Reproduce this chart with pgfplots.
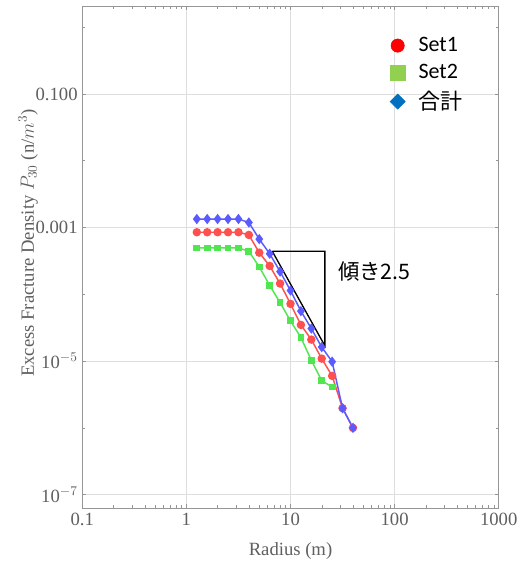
\documentclass[border=0pt]{standalone}
\usepackage{pgfplots}
\pgfplotsset{compat=1.18}
\usepackage{fontspec}
\setmainfont{Liberation Serif}
\newfontfamily\cjk{Noto Sans CJK JP}
\newfontfamily\calib{Carlito}

\definecolor{axgray}{RGB}{150,150,150}
\definecolor{txtgray}{RGB}{95,95,95}
\definecolor{gridgray}{RGB}{222,222,222}
\definecolor{serA}{RGB}{255,80,80}
\definecolor{serB}{RGB}{80,230,80}
\definecolor{serC}{RGB}{90,90,255}
\definecolor{legA}{RGB}{255,0,0}
\definecolor{legB}{RGB}{146,208,80}
\definecolor{legC}{RGB}{0,112,192}

% Set1, Set2 and their sum (P30 against radius)
\pgfplotstableread{
r        p
1.259    8.5e-4
1.585    8.5e-4
1.995    8.5e-4
2.512    8.5e-4
3.162    8.5e-4
3.981    7.75e-4
5.012    4.2e-4
6.310    2.66e-4
7.943    1.45e-4
10.00    7.2e-5
12.59    3.48e-5
15.85    2.1e-5
19.95    1.09e-5
25.12    6.0e-6
31.62    1.97e-6
39.81    1.0e-6
}\setone
\pgfplotstableread{
r        p
1.259    4.95e-4
1.585    4.95e-4
1.995    4.95e-4
2.512    4.95e-4
3.162    4.95e-4
3.981    4.42e-4
5.012    2.57e-4
6.310    1.36e-4
7.943    7.5e-5
10.00    4.0e-5
12.59    2.25e-5
15.85    1.03e-5
19.95    5.1e-6
25.12    4.1e-6
}\settwo
\pgfplotstableread{
r        p
1.259    1.34e-3
1.585    1.34e-3
1.995    1.34e-3
2.512    1.34e-3
3.162    1.34e-3
3.981    1.19e-3
5.012    6.7e-4
6.310    4.05e-4
7.943    2.19e-4
10.00    1.14e-4
12.59    5.6e-5
15.85    3.07e-5
19.95    1.62e-5
25.12    9.8e-6
31.62    1.97e-6
39.81    1.0e-6
}\settotal

\begin{document}
\begin{tikzpicture}
\begin{axis}[
  scale only axis,
  width=312.3pt, height=376.3pt,
  xmode=log, ymode=log,
  xmin=0.1, xmax=1000,
  ymin=6.31e-8, ymax=2.056,
  xtick={0.1,1,10,100,1000},
  xticklabels={0.1,1,10,100,1000},
  minor xtick={0.2,0.3,0.4,0.5,0.6,0.7,0.8,0.9,2,3,4,5,6,7,8,9,20,30,40,50,60,70,80,90,200,300,400,500,600,700,800,900},
  ytick={1e-7,1e-5,1e-3,1e-1},
  yticklabels={10$^{-7}$,10$^{-5}$,0.001,0.100},
  minor ytick={1e-6,1e-4,1e-2,1},
  grid=major,
  major grid style={gridgray, line width=0.6pt},
  tick align=inside,
  major tick length=3pt,
  minor tick length=2pt,
  axis line style={axgray, line width=0.7pt},
  every tick/.style={axgray, line width=0.5pt},
  ticklabel style={font=\fontsize{14}{16}\selectfont, text=txtgray},
  xlabel={Radius (m)},
  ylabel={Excess Fracture Density $P_{30}$ (n/$m^3$)},
  label style={font=\fontsize{14}{16}\selectfont, text=txtgray},
  xlabel style={at={(axis description cs:0.5,-0.06)}, anchor=north},
  ylabel style={at={(axis description cs:-0.13,0.528)}, anchor=center},
  legend style={draw=none, fill=none, at={(axis description cs:0.729,0.949)}, anchor=north west,
    font=\fontsize{16.5}{19}\selectfont, row sep=4pt,
    /tikz/every odd column/.append style={column sep=8pt}},
  legend cell align=left,
]
\addlegendimage{only marks, mark=*, mark size=5pt, legA}
\addlegendentry{\calib Set1}
\addlegendimage{only marks, mark=square*, mark size=5.5pt, legB}
\addlegendentry{\calib Set2}
\addlegendimage{only marks, mark=square*, mark size=4pt, mark options={rotate=45}, legC}
\addlegendentry{\cjk 合計}

% slope guide triangle
\addplot[black, line width=1pt, forget plot] coordinates {(6.68,4.42e-4) (21.4,4.42e-4) (21.4,1.69e-5) (6.68,4.42e-4)};

\addplot[serA, line width=1.1pt, mark=*, mark size=2.6pt, forget plot] table[x=r,y=p] {\setone};
\addplot[serB, line width=1.1pt, mark=square*, mark size=2pt, forget plot] table[x=r,y=p] {\settwo};
\addplot[serC, line width=1.1pt, mark=diamond*, mark size=3pt, forget plot] table[x=r,y=p] {\settotal};

\node[anchor=west, font=\cjk\fontsize{16}{19}\selectfont, inner sep=0pt] at (axis cs:28.6,2.2e-4) {傾き2.5};
\end{axis}
\pgfresetboundingbox
\path[use as bounding box] (-61.725pt,-45pt) rectangle (327.525pt,381pt);
\end{tikzpicture}
\end{document}
